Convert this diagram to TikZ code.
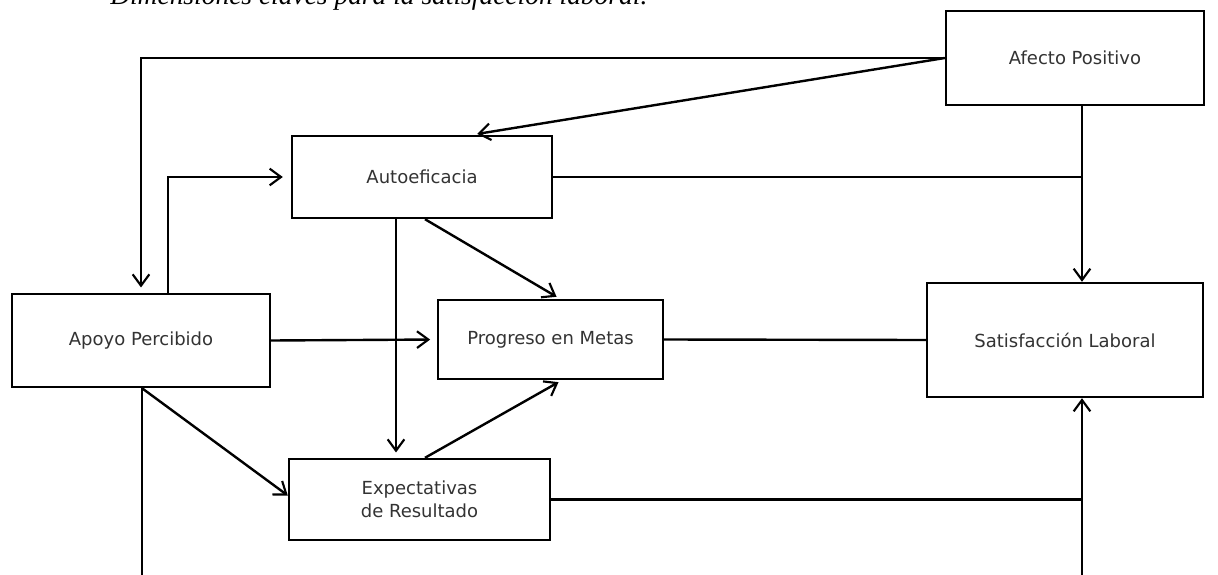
\documentclass[tikz,border=0pt]{standalone}
\usepackage{fontspec}
\setmainfont{Liberation Serif}
\newfontfamily\boxfont{DejaVu Sans}
\usetikzlibrary{arrows.meta}
\tikzset{
  px/.style={x=0.75pt,y=-0.75pt},
  box/.style={draw=black, line width=1.8pt, fill=white, inner sep=0pt, align=center,
    font=\boxfont\fontsize{13.5}{17}\selectfont, text=black!80},
  conn/.style={line width=1.8pt, draw=black},
  arr/.style={conn, -{Straight Barb[length=8.5pt,width=12.5pt,line width=1.6pt]}},
}
\begin{document}
\begin{tikzpicture}[px]
\clip (0,0) rectangle (1218,575);
\fill[white] (0,0) rectangle (1218,575);
% title (cut off at the top, as in the reference)
\node[anchor=base west, inner sep=0pt, font=\itshape\fontsize{20.6}{22}\selectfont] (title) at (110,4) {Dimensiones claves para la satisfacción laboral.};
% boxes
\node[box, minimum width=258*0.75pt, minimum height=94*0.75pt] (afecto) at (1075,58) {Afecto Positivo};
\node[box, minimum width=260*0.75pt, minimum height=82*0.75pt] (auto) at (422,177) {Autoeficacia};
\node[box, minimum width=258*0.75pt, minimum height=93*0.75pt] (apoyo) at (141,340.5) {Apoyo Percibido};
\node[box, minimum width=225*0.75pt, minimum height=79*0.75pt] (prog) at (550.5,339.5) {Progreso en Metas};
\node[box, minimum width=276*0.75pt, minimum height=114*0.75pt] (sat) at (1065,340) {Satisfacción Laboral};
\node[box, minimum width=261*0.75pt, minimum height=81*0.75pt] (exp) at (419.5,499.5) {Expectativas\\de Resultado};
% helper coordinates
\coordinate (cx) at (1082,0);
\coordinate (b1) at (142,575);
\coordinate (b2) at (1082,575);
\coordinate (ax) at (168,0);
\coordinate (ad) at (396,0);
\coordinate (ae) at (425,0);
\coordinate (pt) at (560,0);
\coordinate (pb) at (562,0);
\coordinate (at) at (472,0);
% connectors
\draw[arr, shorten >=4pt] (afecto.west) -| (apoyo.north);
\draw[arr, shorten >=4pt] (afecto.west) -- (auto.north -| at);
\draw[arr, shorten >=6pt] (apoyo.north -| ax) |- (auto.west);
\draw[arr] (afecto.south -| cx) -- (sat.north -| cx);
\draw[conn] (auto.east) -- (auto.east -| cx);
\draw[arr, shorten >=4pt] (auto.south -| ad) -- (exp.north -| ad);
\draw[arr, shorten >=3pt] (auto.south -| ae) -- (prog.north -| pt);
\draw[arr, shorten >=5pt] (apoyo.east) -- (prog.west);
\draw[conn] (prog.east) -- (sat.west);
\draw[arr] (apoyo.south -| b1) -- ([yshift=3pt]exp.west);
\draw[conn] (apoyo.south -| b1) -- (b1);
\draw[arr, shorten >=3pt] (exp.north -| ae) -- (prog.south -| pb);
\draw[conn] (exp.east) -- (exp.east -| cx);
\draw[arr] (b2) -- (sat.south -| b2);
\end{tikzpicture}
\end{document}
